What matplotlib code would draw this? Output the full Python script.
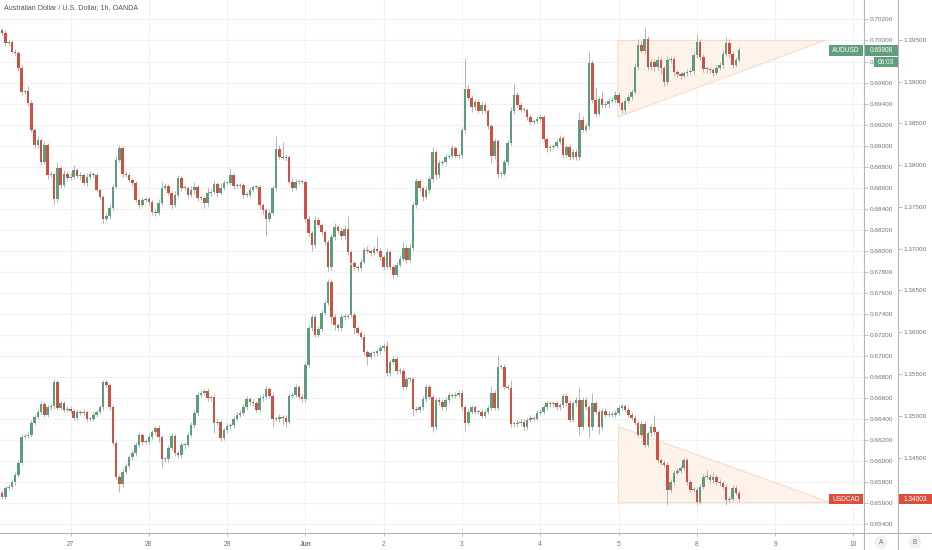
import matplotlib
matplotlib.use('Agg')
import matplotlib.pyplot as plt
import matplotlib.patches as mpatches
import matplotlib.lines as mlines
from matplotlib.transforms import IdentityTransform
import numpy as np

plt.rcParams['font.family'] = ['Liberation Sans', 'DejaVu Sans']

title = 'Australian Dollar / U.S. Dollar, 1h, OANDA'

# AUDUSD hourly candles (open of each bar = close of the bar before)
aud_first_open = 0.70100
aud_close = [
    0.70071, 0.69976, 0.69986, 0.69890, 0.69881, 0.69738, 0.69510, 0.69520, 0.69405, 0.69149,
    0.69006, 0.69054, 0.68844, 0.69006, 0.68721, 0.68730, 0.68492, 0.68787, 0.68626, 0.68730,
    0.68692, 0.68702, 0.68768, 0.68711, 0.68721, 0.68645, 0.68702, 0.68730, 0.68721, 0.68578,
    0.68511, 0.68302, 0.68331, 0.68407, 0.68607, 0.68863, 0.68977, 0.68730, 0.68721, 0.68673,
    0.68645, 0.68483, 0.68435, 0.68483, 0.68492, 0.68464, 0.68369, 0.68359, 0.68454, 0.68597,
    0.68616, 0.68550, 0.68435, 0.68531, 0.68692, 0.68597, 0.68597, 0.68531, 0.68578, 0.68607,
    0.68502, 0.68502, 0.68454, 0.68550, 0.68559, 0.68635, 0.68550, 0.68597, 0.68645, 0.68645,
    0.68721, 0.68616, 0.68616, 0.68626, 0.68531, 0.68531, 0.68578, 0.68607, 0.68607, 0.68435,
    0.68388, 0.68302, 0.68359, 0.68597, 0.68968, 0.68892, 0.68882, 0.68892, 0.68654, 0.68597,
    0.68654, 0.68664, 0.68654, 0.68302, 0.68169, 0.68055, 0.68293, 0.68245, 0.68179, 0.68084,
    0.67846, 0.68131, 0.68226, 0.68188, 0.68141, 0.68207, 0.67988, 0.67884, 0.67846, 0.67836,
    0.67893, 0.68007, 0.67998, 0.67979, 0.68017, 0.67998, 0.67941, 0.67846, 0.67988, 0.67846,
    0.67770, 0.67865, 0.67922, 0.68026, 0.67912, 0.68026, 0.68435, 0.68664, 0.68597, 0.68511,
    0.68578, 0.68683, 0.68939, 0.68721, 0.68835, 0.68844, 0.68892, 0.68901, 0.68977, 0.68901,
    0.68911, 0.69149, 0.69539, 0.69453, 0.69367, 0.69415, 0.69329, 0.69386, 0.69329, 0.69187,
    0.68901, 0.69044, 0.68730, 0.68730, 0.68844, 0.69025, 0.69329, 0.69482, 0.69386, 0.69339,
    0.69339, 0.69272, 0.69225, 0.69234, 0.69253, 0.69272, 0.69063, 0.68977, 0.68987, 0.68996,
    0.69035, 0.69073, 0.68911, 0.68987, 0.68892, 0.68939, 0.68892, 0.69244, 0.69149, 0.69187,
    0.69786, 0.69434, 0.69301, 0.69444, 0.69386, 0.69396, 0.69425, 0.69434, 0.69482, 0.69405,
    0.69339, 0.69425, 0.69463, 0.69510, 0.69748, 0.69957, 0.69900, 0.70014, 0.69748, 0.69795,
    0.69748, 0.69814, 0.69738, 0.69605, 0.69814, 0.69824, 0.69700, 0.69681, 0.69662, 0.69691,
    0.69700, 0.69710, 0.69862, 0.69986, 0.69843, 0.69729, 0.69729, 0.69719, 0.69691, 0.69738,
    0.69767, 0.69872, 0.69976, 0.69872, 0.69767, 0.69814, 0.69908,
]
# wick length beyond the body, in pips
aud_wick_up = [
    2, 3, 2, 2, 3, 2, 3, 2, 5, 3, 2, 4, 2, 4, 2, 3, 2, 6, 2, 4,
    3, 4, 5, 2, 3, 2, 4, 3, 2, 2, 2, 2, 3, 4, 3, 5, 3, 2, 3, 2,
    2, 2, 2, 3, 2, 2, 2, 3, 4, 6, 3, 2, 2, 4, 3, 2, 3, 2, 4, 5,
    2, 3, 2, 6, 3, 4, 2, 5, 3, 2, 6, 2, 3, 2, 2, 3, 3, 2, 2, 2,
    2, 2, 3, 3, 12, 4, 14, 3, 2, 4, 3, 2, 2, 2, 3, 2, 4, 3, 2, 2,
    2, 3, 4, 2, 3, 4, 12, 2, 2, 2, 3, 3, 4, 2, 3, 12, 3, 2, 4, 2,
    2, 3, 4, 6, 3, 5, 3, 3, 2, 2, 4, 3, 5, 2, 3, 2, 3, 2, 3, 2,
    2, 3, 29, 4, 3, 3, 3, 4, 3, 2, 2, 3, 2, 3, 3, 3, 4, 10, 3, 3,
    3, 2, 2, 2, 3, 3, 2, 2, 3, 2, 3, 3, 2, 3, 3, 3, 3, 8, 4, 3,
    10, 3, 12, 3, 8, 3, 3, 3, 4, 3, 2, 3, 3, 3, 4, 6, 4, 10, 3, 3,
    3, 4, 3, 2, 4, 3, 3, 2, 2, 2, 3, 3, 3, 8, 3, 3, 3, 2, 2, 3,
    3, 4, 6, 4, 3, 3, 3,
]
aud_wick_dn = [
    2, 3, 2, 2, 2, 3, 3, 2, 3, 2, 3, 3, 3, 2, 4, 2, 6, 3, 3, 2,
    3, 2, 2, 2, 3, 2, 3, 3, 2, 2, 2, 4, 2, 3, 2, 2, 2, 3, 2, 2,
    3, 2, 3, 2, 2, 3, 3, 3, 2, 2, 2, 2, 4, 2, 2, 3, 2, 3, 2, 4,
    3, 2, 5, 3, 3, 2, 4, 2, 2, 2, 2, 3, 2, 2, 3, 2, 2, 2, 2, 4,
    4, 16, 3, 2, 3, 2, 2, 3, 2, 3, 2, 2, 2, 3, 4, 6, 3, 2, 3, 3,
    4, 3, 3, 2, 3, 3, 3, 4, 3, 3, 2, 2, 2, 3, 2, 2, 3, 3, 2, 3,
    3, 2, 2, 2, 3, 2, 3, 3, 3, 4, 2, 3, 3, 4, 3, 2, 2, 2, 2, 2,
    2, 3, 3, 2, 5, 3, 2, 3, 2, 3, 7, 3, 4, 3, 2, 3, 2, 3, 2, 2,
    2, 3, 2, 2, 2, 2, 3, 4, 3, 2, 2, 2, 3, 2, 3, 2, 3, 3, 2, 2,
    3, 3, 3, 2, 3, 3, 4, 2, 3, 3, 3, 3, 2, 3, 2, 3, 2, 3, 3, 3,
    4, 3, 6, 4, 3, 3, 4, 3, 4, 2, 3, 2, 3, 3, 3, 3, 4, 3, 3, 2,
    2, 3, 2, 3, 3, 2, 2,
]

# USDCAD hourly candles
cad_first_open = 1.34078
cad_close = [
    1.34030, 1.34138, 1.34150, 1.34209, 1.34293, 1.34437, 1.34748, 1.34760, 1.34772, 1.34915,
    1.34987, 1.35047, 1.35142, 1.35011, 1.35106, 1.35118, 1.35405, 1.35095, 1.35154, 1.35071,
    1.35083, 1.35059, 1.34975, 1.35047, 1.35035, 1.35047, 1.34963, 1.34963, 1.35011, 1.35047,
    1.35106, 1.35405, 1.35370, 1.35106, 1.34676, 1.34269, 1.34185, 1.34329, 1.34401, 1.34508,
    1.34556, 1.34652, 1.34772, 1.34688, 1.34688, 1.34748, 1.34807, 1.34855, 1.34748, 1.34484,
    1.34484, 1.34616, 1.34760, 1.34556, 1.34532, 1.34652, 1.34652, 1.34772, 1.34891, 1.35035,
    1.35250, 1.35274, 1.35298, 1.35214, 1.35226, 1.34915, 1.34927, 1.34736, 1.34831, 1.34879,
    1.34891, 1.34963, 1.35011, 1.35035, 1.35106, 1.35202, 1.35166, 1.35154, 1.35071, 1.35214,
    1.35226, 1.35322, 1.35238, 1.34963, 1.34963, 1.34987, 1.34975, 1.34927, 1.35238, 1.35250,
    1.35346, 1.35226, 1.35202, 1.35609, 1.36051, 1.36183, 1.35968, 1.36040, 1.36231, 1.36351,
    1.36602, 1.36183, 1.36087, 1.36051, 1.36183, 1.36195, 1.36183, 1.36805, 1.36051, 1.35992,
    1.35944, 1.35764, 1.35705, 1.35752, 1.35752, 1.35776, 1.35812, 1.35836, 1.35513, 1.35645,
    1.35681, 1.35537, 1.35537, 1.35346, 1.35441, 1.35441, 1.35083, 1.35071, 1.35106, 1.35202,
    1.35346, 1.35226, 1.34867, 1.35190, 1.35166, 1.35106, 1.35190, 1.35250, 1.35238, 1.35250,
    1.35274, 1.35106, 1.34915, 1.35047, 1.35106, 1.35047, 1.35047, 1.34999, 1.35047, 1.35095,
    1.35274, 1.35095, 1.35585, 1.35585, 1.35346, 1.35334, 1.34903, 1.34903, 1.34915, 1.34927,
    1.34867, 1.34951, 1.34975, 1.34963, 1.35035, 1.35047, 1.35106, 1.35154, 1.35142, 1.35154,
    1.35106, 1.35130, 1.35238, 1.35154, 1.34951, 1.35154, 1.35190, 1.34867, 1.35190, 1.35106,
    1.34867, 1.35154, 1.35047, 1.34867, 1.35059, 1.35011, 1.35023, 1.35011, 1.35035, 1.35095,
    1.35118, 1.35071, 1.35011, 1.34975, 1.34915, 1.34772, 1.34903, 1.34652, 1.34795, 1.34867,
    1.34807, 1.34472, 1.34437, 1.34413, 1.34114, 1.34209, 1.34317, 1.34341, 1.34377, 1.34472,
    1.34209, 1.34114, 1.34114, 1.33970, 1.34150, 1.34269, 1.34269, 1.34233, 1.34269, 1.34209,
    1.34197, 1.34150, 1.33994, 1.34006, 1.34138, 1.34078, 1.34003,
]
# bars whose open does not follow the previous close (spike bar)
cad_open_fix = {107: 1.36207, 108: 1.36207}
cad_wick_up = [
    3, 2, 3, 2, 3, 3, 3, 3, 4, 3, 3, 3, 4, 3, 2, 2, 4, 3, 3, 2,
    3, 3, 2, 3, 2, 3, 2, 2, 3, 2, 3, 3, 2, 2, 2, 2, 3, 3, 3, 2,
    3, 3, 3, 2, 3, 3, 3, 2, 3, 2, 2, 3, 3, 2, 3, 3, 3, 3, 3, 3,
    3, 3, 2, 3, 2, 3, 3, 2, 3, 3, 2, 3, 3, 3, 4, 3, 2, 3, 3, 3,
    3, 3, 2, 3, 2, 3, 2, 3, 3, 3, 3, 2, 3, 3, 4, 3, 3, 3, 3, 3,
    4, 3, 3, 3, 3, 3, 3, 3, 3, 3, 3, 3, 3, 3, 3, 3, 3, 4, 6, 3,
    3, 3, 3, 3, 3, 3, 3, 3, 3, 4, 4, 3, 3, 3, 3, 3, 3, 3, 2, 3,
    3, 3, 3, 3, 3, 3, 3, 3, 3, 3, 8, 3, 14, 3, 3, 3, 10, 3, 3, 3,
    3, 3, 3, 3, 3, 3, 3, 3, 3, 3, 3, 3, 4, 3, 4, 3, 3, 15, 3, 3,
    3, 12, 3, 3, 3, 3, 3, 3, 3, 3, 3, 3, 3, 3, 3, 3, 3, 3, 3, 3,
    14, 3, 3, 3, 3, 3, 4, 4, 3, 3, 3, 3, 3, 3, 3, 3, 8, 3, 6, 3,
    3, 3, 3, 3, 4, 3, 3,
]
cad_wick_dn = [
    3, 3, 2, 3, 3, 3, 3, 3, 3, 3, 3, 3, 3, 3, 3, 3, 3, 3, 3, 3,
    3, 3, 3, 3, 3, 3, 3, 3, 3, 3, 3, 3, 3, 3, 3, 3, 9, 3, 3, 3,
    3, 3, 3, 3, 3, 3, 3, 3, 6, 10, 4, 3, 3, 3, 4, 3, 5, 3, 3, 3,
    3, 3, 3, 3, 3, 12, 3, 4, 3, 3, 3, 3, 3, 3, 3, 3, 3, 3, 3, 3,
    3, 3, 3, 10, 3, 4, 8, 6, 3, 3, 3, 3, 3, 3, 3, 3, 3, 3, 3, 3,
    3, 8, 6, 4, 3, 4, 3, 3, 7, 3, 3, 3, 10, 3, 3, 3, 3, 3, 3, 3,
    3, 3, 3, 3, 3, 3, 9, 3, 3, 3, 3, 3, 6, 3, 3, 3, 3, 3, 3, 3,
    3, 3, 10, 3, 3, 3, 3, 3, 3, 3, 3, 3, 3, 3, 3, 3, 3, 3, 3, 3,
    3, 3, 3, 3, 3, 3, 3, 3, 3, 3, 3, 3, 3, 3, 3, 3, 3, 10, 3, 3,
    12, 3, 3, 8, 3, 3, 3, 3, 3, 3, 3, 3, 3, 3, 3, 3, 3, 3, 3, 3,
    3, 3, 3, 3, 18, 3, 3, 3, 3, 3, 3, 3, 3, 4, 3, 3, 3, 3, 3, 3,
    3, 3, 6, 3, 3, 3, 3,
]

# time axis: bars before the first day label, then 24 bars a day
day_labels = ['27', '28', '29', 'Jun', '2', '3', '4', '5', '8', '9', '10']
bars_before_first_day = 21
bars_per_day = 24

aud_ticks = np.arange(0.654, 0.70201, 0.002)
cad_ticks = np.arange(1.340, 1.39501, 0.005)

# drawn triangles (bar index, price)
aud_triangle = [(188.8, 0.70000), (252.3, 0.70000), (188.8, 0.69273)]
cad_triangle = [(188.9, 1.34883), (188.9, 1.33974), (253.8, 1.33974)]
countdown = '06:03'

UP = '#5c9d7c'
DOWN = '#cf5141'
WICK = '#a9abb0'
GRID = '#f0f1f4'
AXC = '#b4b6bb'
TXT = '#6f727a'
BOX_G = '#5f9f7c'
BOX_R = '#d9503d'
TRI_FILL = '#fef2ea'
TRI_EDGE = '#f9dcc7'


def candles(axis, first_open, closes, up, dn, pip, fix=None):
    c = np.array(closes)
    o = np.concatenate([[first_open], c[:-1]])
    if fix:
        for k, v in fix.items():
            o[k] = v
    x = np.arange(len(c))
    hi = np.maximum(o, c) + np.array(up) * pip
    lo = np.minimum(o, c) - np.array(dn) * pip
    col = [UP if cc >= oo else DOWN for oo, cc in zip(o, c)]
    axis.vlines(x, lo, hi, color=WICK, linewidth=0.6, zorder=2)
    body = np.maximum(np.abs(c - o), pip * 0.9)
    axis.bar(x, body, bottom=np.minimum(o, c), width=0.78, color=col,
             linewidth=0, zorder=3)


W, H = 932, 550
fig = plt.figure(figsize=(W / 100, H / 100), dpi=100)
fig.patch.set_facecolor('white')
ax = fig.add_axes([0, 17 / H, 864 / W, 533 / H])
ax2 = ax.twinx()

ax.set_xlim(-0.613, 264.25)
ax.set_ylim(0.65316, 0.70385)
ax2.set_ylim(1.33599, 1.39975)

ax.add_patch(mpatches.Polygon(aud_triangle, closed=True, fc=TRI_FILL,
                              ec=TRI_EDGE, lw=0.8, zorder=1))
ax2.add_patch(mpatches.Polygon(cad_triangle, closed=True, fc=TRI_FILL,
                               ec=TRI_EDGE, lw=0.8, zorder=1))

candles(ax, aud_first_open, aud_close, aud_wick_up, aud_wick_dn, 0.0001)
candles(ax2, cad_first_open, cad_close, cad_wick_up, cad_wick_dn, 0.0001, cad_open_fix)

# axes and ticks
day_pos = [bars_before_first_day + bars_per_day * i for i in range(len(day_labels))]
ax.set_xticks(day_pos)
ax.set_xticklabels(day_labels)
for lab in ax.get_xticklabels():
    if lab.get_text() == 'Jun':
        lab.set_fontweight('bold')
        lab.set_color('#555860')
ax.set_yticks(aud_ticks)
ax.set_yticklabels(['%.5f' % v for v in aud_ticks])
ax.yaxis.tick_right()
ax2.set_yticks(cad_ticks)
ax2.set_yticklabels(['%.5f' % v for v in cad_ticks])
ax2.spines['right'].set_position(('outward', 34 * 0.72))

ax.grid(True, color=GRID, linewidth=0.8)
ax.set_axisbelow(True)
for s in ['top', 'left', 'right']:
    ax.spines[s].set_visible(False)
for s in ax2.spines.values():
    s.set_visible(False)
ax.spines['bottom'].set_color(AXC)
ax.spines['bottom'].set_linewidth(0.8)

ax.tick_params(axis='x', length=2, width=0.6, color=AXC, labelsize=4.8,
               labelcolor=TXT, pad=3.5)
ax.tick_params(axis='y', length=2.6, width=0.6, color=AXC, labelsize=4.6,
               labelcolor=TXT, pad=1.2, left=False)
ax2.tick_params(axis='y', length=2.6, width=0.6, color=AXC, labelsize=4.6,
                labelcolor=TXT, pad=1.2)

# price scale borders
px = IdentityTransform()
for xx in (864, 898):
    fig.add_artist(mlines.Line2D([xx, xx], [0, H], color=AXC, lw=0.8, transform=px))
fig.add_artist(mlines.Line2D([864, W], [H - 533, H - 533], color=AXC, lw=0.8, transform=px))

fig.text(4, H - 8, title, transform=px, fontsize=5.1, color='#50535a', va='center')


# last price labels
def label_box(x0, x1, yc, h, color, text, size=4.7):
    fig.add_artist(mpatches.Rectangle((x0, yc - h / 2), x1 - x0, h, fc=color,
                                      ec='none', transform=px, zorder=5))
    fig.text((x0 + x1) / 2, yc, text, transform=px, fontsize=size, color='white',
             ha='center', va='center', zorder=6)


y_aud = ax.transData.transform((0, aud_close[-1]))[1]
y_cad = ax2.transData.transform((0, cad_close[-1]))[1]
label_box(829, 863, y_aud, 11, BOX_G, 'AUDUSD')
label_box(865, 898, y_aud, 11, BOX_G, '%.5f' % aud_close[-1])
label_box(874, 898, y_aud - 12, 10, BOX_G, countdown)
label_box(829, 863, y_cad, 10, BOX_R, 'USDCAD')
label_box(899, 932, y_cad, 10, BOX_R, '%.5f' % cad_close[-1])

for xc, letter in ((881, 'A'), (915, 'B')):
    fig.add_artist(mpatches.Circle((xc, H - 542), 6.5, fc='#f0f1f3', ec='none',
                                   transform=px))
    fig.text(xc, H - 542, letter, transform=px, fontsize=4.8, color=TXT,
             ha='center', va='center')

fig.savefig('out.png', dpi=100, facecolor='white')
